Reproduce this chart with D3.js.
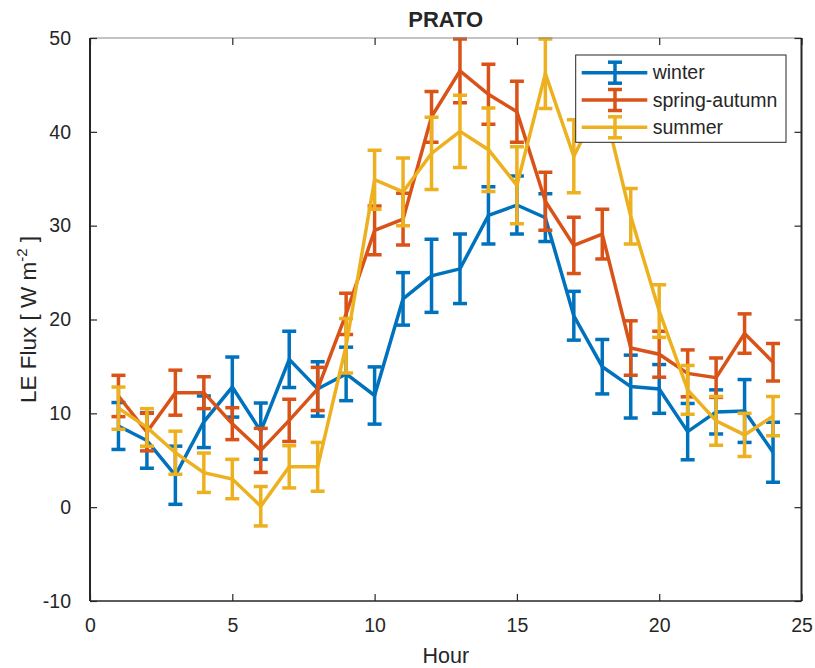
<!DOCTYPE html>
<html>
<head>
<meta charset="utf-8">
<script src="https://cdn.jsdelivr.net/npm/d3@7/dist/d3.min.js"></script>
<style>
  html, body { margin: 0; padding: 0; background: #fff; }
  svg text { font-family: "Liberation Sans", Arial, Helvetica, sans-serif; fill: #262626; }
</style>
</head>
<body>
<svg id="chart" width="815" height="668"></svg>
<script>
const hours = d3.range(1, 25);
const seriesNames = ["winter", "spring-autumn", "summer"];
const seriesColors = ["#0072BD", "#D95319", "#EDB120"];

const winterMean = [8.65, 7.1, 3.4, 9.1, 12.8, 8.1, 15.75, 12.6, 14.2, 11.9, 22.2, 24.66,
                    25.4, 31.1, 32.2, 30.85, 20.4, 14.97, 12.85, 12.6, 8.05, 10.15, 10.25, 5.85];
const winterErr  = [2.5, 2.95, 3.1, 2.75, 3.2, 3.0, 3.0, 2.9, 2.85, 3.05, 2.8, 3.9,
                    3.7, 3.05, 3.1, 2.55, 2.6, 2.9, 3.35, 2.6, 3.0, 2.35, 3.35, 3.2];
const springMean = [11.85, 8.0, 12.2, 12.2, 8.9, 6.05, 9.25, 12.6, 20.6, 29.5, 30.7, 41.6,
                    46.5, 44.0, 42.15, 32.6, 27.9, 29.1, 16.96, 16.3, 14.26, 13.8, 18.5, 15.45];
const springErr  = [2.2, 2.0, 2.4, 1.7, 1.7, 2.35, 2.25, 2.3, 2.2, 2.6, 2.75, 2.7,
                    3.4, 3.2, 3.25, 3.1, 3.0, 2.65, 2.9, 2.45, 2.5, 2.1, 2.1, 2.0];
const summerMean = [10.55, 8.5, 5.8, 3.67, 3.0, 0.1, 4.3, 4.3, 17.2, 34.9, 33.6, 37.7,
                    40.05, 38.1, 34.3, 46.2, 37.4, 43.5, 31.0, 20.9, 12.5, 9.2, 7.7, 9.7];
const summerErr  = [2.25, 2.0, 2.3, 2.1, 2.1, 2.1, 2.25, 2.6, 2.9, 3.15, 3.6, 3.85,
                    3.85, 4.45, 4.1, 3.7, 3.9, 3.0, 2.95, 2.8, 2.6, 2.6, 2.3, 2.1];

const xTicks = [0, 5, 10, 15, 20, 25];
const yTicks = [-10, 0, 10, 20, 30, 40, 50];

const titleText = "PRATO";
const xLabel = "Hour";

const series = [
  { name: seriesNames[0], color: seriesColors[0], mean: winterMean, err: winterErr },
  { name: seriesNames[1], color: seriesColors[1], mean: springMean, err: springErr },
  { name: seriesNames[2], color: seriesColors[2], mean: summerMean, err: summerErr }
];

const L = 90, R = 801.5, T = 38, B = 601;
const svg = d3.select("#chart");
const x = d3.scaleLinear().domain([0, 25]).range([L, R]);
const y = d3.scaleLinear().domain([-10, 50]).range([B, T]);

const clipId = "plotclip";
svg.append("defs").append("clipPath").attr("id", clipId)
  .append("rect").attr("x", L).attr("y", T - 3).attr("width", R - L).attr("height", B - T + 3);

const plot = svg.append("g").attr("clip-path", `url(#${clipId})`);
const lw = 3.5, capW = 7;

series.forEach(s => {
  const pts = hours.map((h, i) => ({ h, m: s.mean[i], e: s.err[i] }));
  const g = plot.append("g");
  g.append("path")
    .attr("d", d3.line().x(d => x(d.h)).y(d => y(d.m))(pts))
    .attr("fill", "none").attr("stroke", s.color).attr("stroke-width", lw)
    .attr("stroke-linejoin", "miter");
  const eb = g.selectAll("g.eb").data(pts).enter().append("g");
  eb.append("line")
    .attr("x1", d => x(d.h)).attr("x2", d => x(d.h))
    .attr("y1", d => y(d.m - d.e)).attr("y2", d => y(d.m + d.e))
    .attr("stroke", s.color).attr("stroke-width", lw);
  [-1, 1].forEach(sg => {
    eb.append("line")
      .attr("x1", d => x(d.h) - capW).attr("x2", d => x(d.h) + capW)
      .attr("y1", d => y(d.m + sg * d.e)).attr("y2", d => y(d.m + sg * d.e))
      .attr("stroke", s.color).attr("stroke-width", lw);
  });
});

// Axes frame
const axisColor = "#262626";
const tickLen = 7;
svg.append("line").attr("x1", L).attr("x2", R).attr("y1", T).attr("y2", T)
  .attr("stroke", "#888").attr("stroke-width", 1.2);
svg.append("line").attr("x1", L).attr("x2", R).attr("y1", B).attr("y2", B)
  .attr("stroke", axisColor).attr("stroke-width", 1.5);
svg.append("line").attr("x1", L).attr("x2", L).attr("y1", T).attr("y2", B)
  .attr("stroke", axisColor).attr("stroke-width", 2);
svg.append("line").attr("x1", R).attr("x2", R).attr("y1", T).attr("y2", B)
  .attr("stroke", axisColor).attr("stroke-width", 2);

const fmt = d => String(d);

const xAxisB = d3.axisBottom(x).tickValues(xTicks).tickFormat(fmt).tickSizeInner(-tickLen).tickSizeOuter(0).tickPadding(10 + tickLen);
const gx = svg.append("g").attr("transform", `translate(0,${B})`).call(xAxisB);
gx.select(".domain").remove();
gx.selectAll(".tick line").attr("stroke", axisColor).attr("stroke-width", 1.2);
gx.selectAll(".tick text").attr("font-size", 19.5).attr("fill", axisColor)
  .style("font-family", "'Liberation Sans', Arial, sans-serif");

const xAxisT = d3.axisTop(x).tickValues(xTicks).tickSizeInner(-tickLen).tickSizeOuter(0).tickFormat("");
const gxt = svg.append("g").attr("transform", `translate(0,${T})`).call(xAxisT);
gxt.select(".domain").remove();
gxt.selectAll(".tick line").attr("stroke", axisColor).attr("stroke-width", 1.2);

const yAxisL = d3.axisLeft(y).tickValues(yTicks).tickFormat(fmt).tickSizeInner(-tickLen).tickSizeOuter(0).tickPadding(12 + tickLen);
const gy = svg.append("g").attr("transform", `translate(${L},0)`).call(yAxisL);
gy.select(".domain").remove();
gy.selectAll(".tick line").attr("stroke", axisColor).attr("stroke-width", 1.2);
gy.selectAll(".tick text").attr("font-size", 19.5).attr("fill", axisColor)
  .style("font-family", "'Liberation Sans', Arial, sans-serif");

const yAxisR = d3.axisRight(y).tickValues(yTicks).tickSizeInner(-tickLen).tickSizeOuter(0).tickFormat("");
const gyr = svg.append("g").attr("transform", `translate(${R},0)`).call(yAxisR);
gyr.select(".domain").remove();
gyr.selectAll(".tick line").attr("stroke", axisColor).attr("stroke-width", 1.2);

// Title
svg.append("text").attr("x", (L + R) / 2).attr("y", 26.5).attr("text-anchor", "middle")
  .attr("font-size", 22).attr("font-weight", "bold").attr("fill", "#000").text(titleText);

// X label
svg.append("text").attr("x", (L + R) / 2).attr("y", 663).attr("text-anchor", "middle")
  .attr("font-size", 21.5).text(xLabel);

// Y label
const yl = svg.append("text").attr("transform", `translate(36,${(T + B) / 2}) rotate(-90)`)
  .attr("text-anchor", "middle").attr("font-size", 22.5);
yl.append("tspan").text("LE Flux [ W m");
yl.append("tspan").attr("font-size", 15).attr("dy", -9).text("-2");
yl.append("tspan").attr("dy", 9).text(" ]");

// Legend
const lg = svg.append("g");
const lgX = 575.7, lgY = 55, lgW = 210.3, lgH = 87.3;
lg.append("rect").attr("x", lgX).attr("y", lgY).attr("width", lgW).attr("height", lgH)
  .attr("fill", "#fff").attr("stroke", "#262626").attr("stroke-width", 1);
const rowY = [72.7, 100, 127.3];
series.forEach((s, i) => {
  const cy = rowY[i];
  const r = lg.append("g");
  r.append("line").attr("x1", 581.7).attr("x2", 647.3).attr("y1", cy).attr("y2", cy)
    .attr("stroke", s.color).attr("stroke-width", lw);
  r.append("line").attr("x1", 615).attr("x2", 615).attr("y1", cy - 10.5).attr("y2", cy + 10.5)
    .attr("stroke", s.color).attr("stroke-width", lw);
  [-10.5, 10.5].forEach(o => {
    r.append("line").attr("x1", 608).attr("x2", 622).attr("y1", cy + o).attr("y2", cy + o)
      .attr("stroke", s.color).attr("stroke-width", lw);
  });
  r.append("text").attr("x", 652.7).attr("y", cy + 6.5).attr("font-size", 19.5)
    .attr("fill", "#000").text(s.name);
});
</script>
</body>
</html>
